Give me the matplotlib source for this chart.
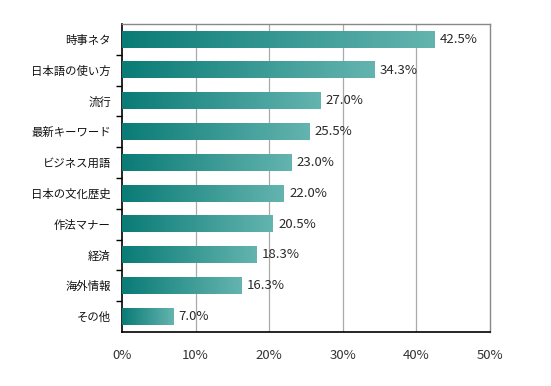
import matplotlib
matplotlib.use("Agg")
import matplotlib.pyplot as plt
import numpy as np
from matplotlib.colors import LinearSegmentedColormap

plt.rcParams['font.family'] = ['Noto Sans CJK JP', 'DejaVu Sans']

categories = ["時事ネタ", "日本語の使い方", "流行", "最新キーワード", "ビジネス用語",
              "日本の文化歴史", "作法マナー", "経済", "海外情報", "その他"]
values = [42.5, 34.3, 27.0, 25.5, 23.0, 22.0, 20.5, 18.3, 16.3, 7.0]
xticks = [0, 10, 20, 30, 40, 50]
xticklabels = ["0%", "10%", "20%", "30%", "40%", "50%"]

W, H = 551, 386
fig = plt.figure(figsize=(W / 100, H / 100), dpi=100)
ax = fig.add_axes([122 / W, 1 - 332 / H, (490 - 122) / W, (332 - 24) / H])

cmap = LinearSegmentedColormap.from_list("teal", ["#0a7b76", "#64b4af"])
grad = np.linspace(0, 1, 256).reshape(1, -1)

n = len(categories)
bh = 0.53
for i, v in enumerate(values):
    ax.imshow(grad, cmap=cmap, aspect='auto', extent=[0, v, i + bh / 2, i - bh / 2],
              zorder=3, interpolation='bicubic')
    ax.text(v + 0.7, i, f"{v:.1f}%", va='center', ha='left', fontsize=9.5,
            color='#2a2a2a', zorder=4)

ax.set_ylim(n - 0.5, -0.5)
ax.set_xlim(0, 50)

for x in xticks[1:-1]:
    ax.axvline(x, color='#aaaaaa', lw=0.9, zorder=1)

ax.set_xticks(xticks)
ax.set_xticklabels(xticklabels, fontsize=9.5, color='#333333')
ax.tick_params(axis='x', length=0, pad=12)

ax.set_yticks(np.arange(n))
ax.set_yticklabels(categories, fontsize=8.2, color='#111111')
ax.tick_params(axis='y', which='major', length=0, pad=8)
ax.set_yticks(np.arange(n - 1) + 0.5, minor=True)
ax.tick_params(axis='y', which='minor', length=4, width=1, color='black', direction='out')

for s in ['left', 'bottom']:
    ax.spines[s].set_color('black')
    ax.spines[s].set_linewidth(1.2)
for s in ['top', 'right']:
    ax.spines[s].set_color('#888888')
    ax.spines[s].set_linewidth(1.0)

fig.savefig("out.png", dpi=100, facecolor='white')
